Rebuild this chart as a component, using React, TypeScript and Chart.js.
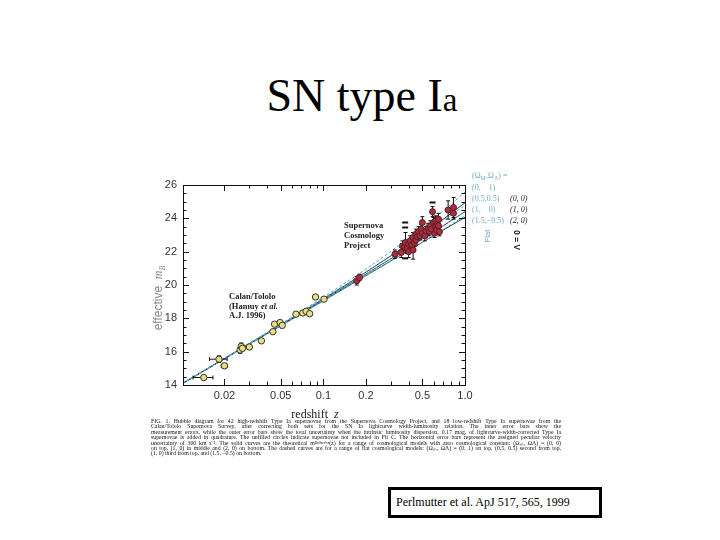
import React, { useEffect, useRef } from "react";
import { Chart, registerables } from "chart.js";
Chart.register(...registerables);

// ---------- data ----------
const zGrid = [0.01, 0.02, 0.05, 0.1, 0.2, 0.3, 0.5, 0.7, 1.0];
const mFlat01 = [14.08, 15.61, 17.66, 19.27, 20.96, 22.02, 23.44, 24.44, 25.57];
const mFlat0505 = [14.07, 15.59, 17.62, 19.19, 20.8, 21.77, 23.03, 23.87, 24.78];
const mFlat10 = [14.07, 15.58, 17.58, 19.11, 20.66, 21.58, 22.76, 23.55, 24.4];
const mFlat15m05 = [14.06, 15.56, 17.54, 19.04, 20.55, 21.44, 22.57, 23.33, 24.15];
const mOpen00 = [14.07, 15.59, 17.61, 19.17, 20.77, 21.75, 23.04, 23.94, 24.94];
const mEdS10 = [14.07, 15.58, 17.58, 19.11, 20.66, 21.58, 22.76, 23.55, 24.4];
const mClosed20 = [14.06, 15.57, 17.56, 19.06, 20.57, 21.45, 22.56, 23.29, 24.06];

const lowZ = [0.0143, 0.0183, 0.02, 0.0258, 0.0263, 0.0268, 0.03, 0.0365, 0.044, 0.0452, 0.0495, 0.0512, 0.064, 0.0715, 0.0755, 0.08, 0.088, 0.101];
const lowM = [14.45, 15.55, 15.15, 16.1, 16.32, 16.2, 16.28, 16.65, 17.2, 17.65, 17.75, 17.58, 18.25, 18.32, 18.42, 18.28, 19.28, 19.15];
const lowMErr = [0.15, 0.2, 0.15, 0.2, 0.2, 0.15, 0.12, 0.12, 0.12, 0.12, 0.12, 0.15, 0.1, 0.1, 0.1, 0.1, 0.15, 0.12];
const lowZErr = [0.0023, 0.0026, 0.001, 0.001, 0.001, 0.001, 0.001, 0.001, 0.001, 0.001, 0.001, 0.001, 0.001, 0.001, 0.001, 0.001, 0.001, 0.001];

const highZ = [0.172, 0.18, 0.32, 0.355, 0.362, 0.375, 0.38, 0.39, 0.4, 0.4, 0.41, 0.42, 0.43, 0.43, 0.44, 0.45, 0.45, 0.46, 0.47, 0.48, 0.49, 0.5, 0.5, 0.52, 0.53, 0.55, 0.56, 0.57, 0.58, 0.59, 0.6, 0.61, 0.62, 0.62, 0.63, 0.64, 0.65, 0.65, 0.66, 0.76, 0.83, 0.83];
const highM = [20.25, 20.45, 21.85, 21.95, 22.35, 22.3, 22.55, 22.2, 22.45, 22.0, 22.65, 22.4, 22.85, 22.1, 22.55, 22.7, 23.05, 22.9, 23.2, 22.95, 23.35, 23.75, 23.1, 22.95, 23.25, 23.4, 23.2, 23.55, 23.35, 24.4, 23.75, 23.1, 23.5, 23.85, 23.3, 23.65, 23.95, 23.55, 23.2, 24.5, 24.65, 24.3];
const highMErr = [0.25, 0.2, 0.25, 0.3, 0.3, 0.25, 0.6, 0.3, 0.25, 0.35, 0.3, 0.25, 0.3, 0.55, 0.25, 0.3, 0.3, 0.25, 0.3, 0.25, 0.3, 0.35, 0.25, 0.3, 0.25, 0.3, 0.25, 0.3, 0.25, 0.3, 0.3, 0.25, 0.3, 0.3, 0.25, 0.3, 0.35, 0.3, 0.25, 0.55, 0.6, 0.35];

const markZ = [0.378, 0.378, 0.378, 0.59];
const markM = [23.75, 23.45, 21.6, 24.95];

const xTickLabels = [0.02, 0.05, 0.1, 0.2, 0.5, 1.0];
const xMinorTicks = [0.02, 0.03, 0.04, 0.05, 0.06, 0.07, 0.08, 0.09, 0.1, 0.2, 0.3, 0.4, 0.5, 0.6, 0.7, 0.8, 0.9];
const yTickLabels = [14, 16, 18, 20, 22, 24, 26];

const caption = [
  "FIG. 1.      Hubble diagram for 42 high-redshift Type Ia supernovae from the Supernova Cosmology Project, and 18 low-redshift Type Ia supernovae from the",
  "Calan/Tololo Supernova Survey, after correcting both sets for the SN Ia lightcurve width-luminosity relation. The inner error bars show the",
  "measurement errors, while the outer error bars show the total uncertainty when the intrinsic luminosity dispersion, 0.17 mag, of lightcurve-width-corrected Type Ia",
  "supernovae is added in quadrature. The unfilled circles indicate supernovae not included in Fit C. The horizontal error bars represent the assigned peculiar velocity",
  "uncertainty of 300 km s\u207B\u00B9. The solid curves are the theoretical m\u1D2E\u1D49\u1DA0\u1DA0\u1D49\u1D9C\u1D57\u2071\u1D5B\u1D49(z) for a range of cosmological models with zero cosmological constant: (\u03A9\u2098, \u03A9\u039B) = (0, 0)",
  "on top, (1, 0) in middle and (2, 0) on bottom. The dashed curves are for a range of flat cosmological models: (\u03A9\u2098, \u03A9\u039B) = (0, 1) on top, (0.5, 0.5) second from top,",
  "(1, 0) third from top, and (1.5, \u22120.5) on bottom.",
];

const OX = 140;
const OY = 160;

type Part = { t: string; f: string; c?: string; dy?: number };
function rich(ctx: CanvasRenderingContext2D, x: number, y: number, parts: Part[], align = "left") {
  let w = 0;
  for (const p of parts) {
    ctx.font = p.f;
    w += ctx.measureText(p.t).width;
  }
  let cx = align === "center" ? x - w / 2 : x;
  ctx.textAlign = "left";
  ctx.textBaseline = "alphabetic";
  for (const p of parts) {
    ctx.font = p.f;
    if (p.c) ctx.fillStyle = p.c;
    ctx.fillText(p.t, cx, y + (p.dy || 0));
    cx += ctx.measureText(p.t).width;
  }
}

const errMap: Record<string, { ey: number[]; ex?: number[] }> = {
  low: { ey: lowMErr, ex: lowZErr },
  high: { ey: highMErr },
};

const overlay = {
  id: "overlay",
  beforeDatasetDraw(chart: any, args: any) {
    const ds = chart.data.datasets[args.index];
    const e = errMap[ds.label];
    if (!e) return;
    const { ctx } = chart;
    const x = chart.scales.x;
    const y = chart.scales.y;
    ctx.save();
    ctx.strokeStyle = "#111";
    ctx.lineWidth = 1;
    ds.data.forEach((p: any, i: number) => {
      const px = x.getPixelForValue(p.x);
      const py = y.getPixelForValue(p.y);
      const y1 = y.getPixelForValue(p.y - e.ey[i]);
      const y2 = y.getPixelForValue(p.y + e.ey[i]);
      ctx.beginPath();
      ctx.moveTo(px, y1);
      ctx.lineTo(px, y2);
      ctx.moveTo(px - 2, y1);
      ctx.lineTo(px + 2, y1);
      ctx.moveTo(px - 2, y2);
      ctx.lineTo(px + 2, y2);
      if (e.ex) {
        const x1 = x.getPixelForValue(p.x - e.ex[i]);
        const x2 = x.getPixelForValue(p.x + e.ex[i]);
        ctx.moveTo(x1, py);
        ctx.lineTo(x2, py);
        ctx.moveTo(x1, py - 2);
        ctx.lineTo(x1, py + 2);
        ctx.moveTo(x2, py - 2);
        ctx.lineTo(x2, py + 2);
      }
      ctx.stroke();
    });
    ctx.restore();
  },
  afterDraw(chart: any) {
    const { ctx, chartArea: a } = chart;
    const x = chart.scales.x;
    const y = chart.scales.y;
    ctx.save();
    // frame
    ctx.strokeStyle = "#111";
    ctx.lineWidth = 1;
    ctx.strokeRect(a.left + 0.5, a.top + 0.5, a.right - a.left, a.bottom - a.top);
    // ticks
    ctx.beginPath();
    for (const v of xMinorTicks) {
      const px = Math.round(x.getPixelForValue(v)) + 0.5;
      const len = xTickLabels.includes(v) ? 6 : 3.5;
      ctx.moveTo(px, a.bottom);
      ctx.lineTo(px, a.bottom - len);
      ctx.moveTo(px, a.top);
      ctx.lineTo(px, a.top + len);
    }
    for (let v = 14.5; v < 26; v += 0.5) {
      const py = Math.round(y.getPixelForValue(v)) + 0.5;
      const len = v % 2 === 0 ? 6 : 3.5;
      ctx.moveTo(a.left, py);
      ctx.lineTo(a.left + len, py);
      ctx.moveTo(a.right, py);
      ctx.lineTo(a.right - len, py);
    }
    ctx.stroke();

    // axis titles
    rich(ctx, 315 - OX, 418 - OY, [
      { t: "redshift  ", f: "12px 'Liberation Serif'", c: "#222" },
      { t: "z", f: "italic 12px 'Liberation Serif'" },
    ], "center");
    ctx.save();
    ctx.translate(162 - OX, 298 - OY);
    ctx.rotate(-Math.PI / 2);
    rich(ctx, 0, 0, [
      { t: "effective  ", f: "12px 'Liberation Sans'", c: "#888" },
      { t: "m", f: "italic 12px 'Liberation Serif'" },
      { t: "B", f: "italic 8px 'Liberation Serif'", dy: 3 },
    ], "center");
    ctx.restore();

    // annotations
    const bf = "bold 8.5px 'Liberation Serif'";
    rich(ctx, 344 - OX, 228 - OY, [{ t: "Supernova", f: bf, c: "#222" }]);
    rich(ctx, 344 - OX, 238 - OY, [{ t: "Cosmology", f: bf }]);
    rich(ctx, 344 - OX, 248 - OY, [{ t: "Project", f: bf }]);
    rich(ctx, 229 - OX, 299 - OY, [{ t: "Calan/Tololo", f: bf, c: "#222" }]);
    rich(ctx, 229 - OX, 309 - OY, [
      { t: "(Hamuy ", f: bf },
      { t: "et al.", f: "bold italic 8.5px 'Liberation Serif'" },
    ]);
    rich(ctx, 229 - OX, 318 - OY, [{ t: "A.J. 1996)", f: bf }]);

    // legend
    const blue = "#72a9c8";
    const lf = "8px 'Liberation Serif'";
    const lfs = "6px 'Liberation Serif'";
    rich(ctx, 472 - OX, 178 - OY, [
      { t: "(\u03A9", f: lf, c: blue },
      { t: "M", f: lfs, dy: 2 },
      { t: ",\u03A9", f: lf },
      { t: "\u039B", f: lfs, dy: 2 },
      { t: ") =", f: lf },
    ]);
    rich(ctx, 472 - OX, 190 - OY, [{ t: "(0,    1)", f: lf, c: blue }]);
    rich(ctx, 472 - OX, 201 - OY, [{ t: "(0.5,0.5)", f: lf, c: blue }]);
    rich(ctx, 472 - OX, 212 - OY, [{ t: "(1,    0)", f: lf, c: blue }]);
    rich(ctx, 472 - OX, 223 - OY, [{ t: "(1.5,\u22120.5)", f: lf, c: blue }]);
    const itf = "italic 8px 'Liberation Serif'";
    rich(ctx, 510 - OX, 201 - OY, [{ t: "(0, 0)", f: itf, c: "#222" }]);
    rich(ctx, 510 - OX, 212 - OY, [{ t: "(1, 0)", f: itf, c: "#222" }]);
    rich(ctx, 510 - OX, 223 - OY, [{ t: "(2, 0)", f: itf, c: "#222" }]);
    ctx.save();
    ctx.translate(490 - OX, 236 - OY);
    ctx.rotate(-Math.PI / 2);
    rich(ctx, 0, 0, [{ t: "Flat", f: "7.5px 'Liberation Sans'", c: blue }], "center");
    ctx.restore();
    ctx.save();
    ctx.translate(520 - OX, 240 - OY);
    ctx.rotate(-Math.PI / 2);
    rich(ctx, 0, 0, [{ t: "\u039B = 0", f: "bold 8.5px 'Liberation Sans'", c: "#222" }], "center");
    ctx.restore();

    ctx.restore();
  },
};

function curve(label: string, m: number[], color: string, dash: number[]) {
  return {
    type: "line" as const,
    label,
    data: zGrid.map((z, i) => ({ x: z, y: m[i] })),
    borderColor: color,
    borderWidth: 1,
    borderDash: dash,
    pointRadius: 0,
    fill: false,
    cubicInterpolationMode: "monotone",
    order: 3,
  };
}

export default function App() {
  const ref = useRef<HTMLCanvasElement>(null);
  useEffect(() => {
    if (!ref.current) return;
    const dashC = "#5ba3bf";
    const solidC = "#1f3e52";
    const chart = new Chart(ref.current, {
      type: "scatter",
      data: {
        datasets: [
          curve("flat01", mFlat01, dashC, [3, 2]),
          curve("flat0505", mFlat0505, dashC, [3, 2]),
          curve("flat10", mFlat10, dashC, [3, 2]),
          curve("flat15", mFlat15m05, dashC, [3, 2]),
          curve("open00", mOpen00, solidC, []),
          curve("eds10", mEdS10, solidC, []),
          curve("closed20", mClosed20, solidC, []),
          {
            label: "low",
            data: lowZ.map((z, i) => ({ x: z, y: lowM[i] })),
            backgroundColor: "#e9df82",
            borderColor: "#333",
            borderWidth: 1,
            pointRadius: 3.2,
            order: 1,
          },
          {
            label: "high",
            data: highZ.map((z, i) => ({ x: z, y: highM[i] })),
            backgroundColor: "#a8303e",
            borderColor: "#5a1a22",
            borderWidth: 1,
            pointRadius: 3,
            order: 1,
          },
          {
            label: "marks",
            data: markZ.map((z, i) => ({ x: z, y: markM[i] })),
            pointStyle: "line",
            borderColor: "#111",
            borderWidth: 2,
            pointRadius: 3,
            order: 0,
          },
        ] as any,
      },
      options: {
        responsive: false,
        animation: false,
        layout: { padding: { top: 25, right: 115, left: 0, bottom: 0 } },
        plugins: { legend: { display: false }, tooltip: { enabled: false } },
        scales: {
          x: {
            type: "logarithmic",
            min: 0.0102,
            max: 1.0,
            afterFit: (s: any) => {
              s.height = 45;
            },
            afterBuildTicks: (s: any) => {
              s.ticks = xTickLabels.map((v) => ({ value: v }));
            },
            grid: { display: false, drawTicks: false },
            border: { display: false },
            ticks: {
              padding: 4,
              autoSkip: false,
              maxRotation: 0,
              color: "#333",
              font: { family: "'Liberation Sans'", size: 11 },
              callback: (v: any) => (Number(v) === 1 ? "1.0" : String(Number(v))),
            },
          },
          y: {
            type: "linear",
            min: 14,
            max: 26,
            afterFit: (s: any) => {
              s.width = 43;
            },
            grid: { display: false, drawTicks: false },
            border: { display: false },
            afterBuildTicks: (s: any) => {
              s.ticks = yTickLabels.map((v) => ({ value: v }));
            },
            ticks: {
              padding: 6,
              color: "#333",
              font: { family: "'Liberation Sans'", size: 11 },
            },
          },
        },
      },
      plugins: [overlay],
    });
    return () => chart.destroy();
  }, []);

  return (
    <div style={{ position: "absolute", left: 0, top: 0, width: 720, height: 540, background: "#fff", overflow: "hidden" }}>
      <div
        style={{
          position: "absolute",
          left: 0,
          width: 724,
          top: 73,
          textAlign: "center",
          fontFamily: "'Liberation Serif'",
          fontSize: 46,
          lineHeight: "46px",
          color: "#000",
          whiteSpace: "nowrap",
        }}
      >
        SN type I<span style={{ fontSize: 33 }}>a</span>
      </div>
      <canvas
        ref={ref}
        width={440}
        height={270}
        style={{ position: "absolute", left: OX, top: OY, width: 440, height: 270 }}
      />
      <div style={{ position: "absolute", left: 151, top: 419, width: 410 }}>
        {caption.map((line, i) => (
          <div
            key={i}
            style={{
              fontFamily: "'Liberation Serif'",
              fontSize: 5.8,
              lineHeight: "5.4px",
              height: 5.4,
              color: "#111",
              whiteSpace: "nowrap",
              textAlign: i < caption.length - 1 ? "justify" : "left",
              textAlignLast: i < caption.length - 1 ? "justify" : "left",
              overflow: "visible",
            }}
          >
            {line}
          </div>
        ))}
      </div>
      <div
        style={{
          position: "absolute",
          left: 388,
          top: 487,
          width: 214,
          height: 31,
          boxSizing: "border-box",
          border: "3px solid #000",
          paddingLeft: 5,
          fontFamily: "'Liberation Serif'",
          fontSize: 12,
          lineHeight: "25px",
          color: "#000",
          whiteSpace: "nowrap",
        }}
      >
        Perlmutter et al. ApJ 517, 565, 1999
      </div>
    </div>
  );
}
